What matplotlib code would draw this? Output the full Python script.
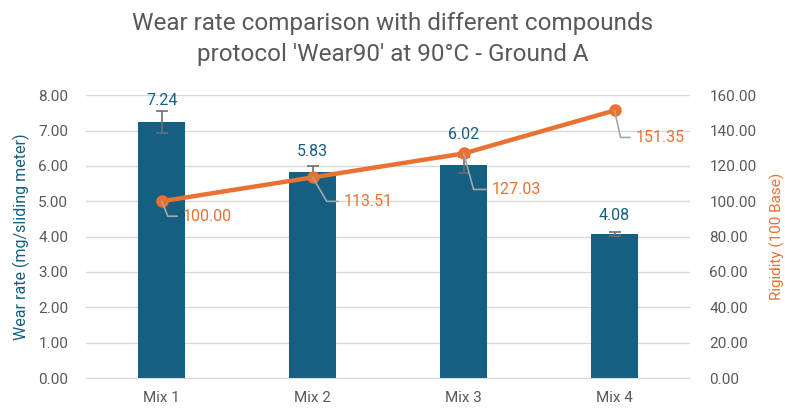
import matplotlib
matplotlib.use("Agg")
import matplotlib.pyplot as plt
import numpy as np

plt.rcParams['font.family'] = ['Roboto', 'DejaVu Sans']

mixes = ["Mix 1", "Mix 2", "Mix 3", "Mix 4"]
wear_rate = [7.24, 5.83, 6.02, 4.08]
wear_err = [0.31, 0.16, 0.23, 0.05]
rigidity = [100.00, 113.51, 127.03, 151.35]

bar_color = "#156082"
line_color = "#E97132"
text_grey = "#595959"
grid_grey = "#D9D9D9"
leader_grey = "#A6A6A6"

# wear label lift above each bar top, in pixels
bar_label_lift = [14, 13, 23, 11]
# rigidity label placement: (corner dx, corner dy, text dx, text dy) in pixels
leader_offsets = [(6, -15, 21, -15), (14, -24, 31, -24), (10, -36, 28, -36), (6, -27, 21, -27)]

fig = plt.figure(figsize=(7.85, 4.12), dpi=100)
ax = fig.add_axes([0.11, 0.0825, 0.769, 0.6865])
ax2 = ax.twinx()
px2pt = 72 / 100

x = np.arange(len(mixes))
ax.bar(x, wear_rate, width=0.31, color=bar_color, zorder=2)
ax.errorbar(x, wear_rate, yerr=wear_err, fmt='none', ecolor="#6E6E6E",
            elinewidth=1.2, capsize=4.5, capthick=1.2, zorder=3)
for xi, v, lift in zip(x, wear_rate, bar_label_lift):
    ax.annotate(f"{v:.2f}", (xi, v), xytext=(0, lift * px2pt), textcoords="offset points",
                ha="center", va="bottom", fontsize=11.5, color=bar_color, zorder=6)

ax.set_xlim(-0.5, len(mixes) - 0.5)
ax.set_ylim(0, 8)
yt = np.arange(0, 8.01, 1)
ax.set_yticks(yt)
ax.set_yticklabels([f"{t:.2f}" for t in yt])
ax.set_xticks(x)
ax.set_xticklabels(mixes)
ax.grid(axis='y', color=grid_grey, linewidth=1, zorder=0)
ax.set_axisbelow(True)
for s in ["top", "right", "left"]:
    ax.spines[s].set_visible(False)
ax.spines["bottom"].set_color(grid_grey)
ax.tick_params(axis='x', length=0, labelsize=11, colors=text_grey, pad=9)
ax.tick_params(axis='y', length=0, labelsize=11, colors=text_grey, pad=13)
ax.set_ylabel("Wear rate (mg/sliding meter)", color=bar_color, fontsize=11.5, labelpad=6)

ax2.set_ylim(0, 160)
ax2.plot(x, rigidity, color=line_color, linewidth=3.2, marker='o', markersize=8,
         zorder=4, solid_capstyle='round')
for xi, v, (cx, cy, tx, ty) in zip(x, rigidity, leader_offsets):
    angle_b = np.degrees(np.arctan2(cy, cx))
    ax2.annotate(f"{v:.2f}", (xi, v), xytext=(tx * px2pt, ty * px2pt),
                 textcoords="offset points", ha="left", va="center",
                 fontsize=11.5, color=line_color, zorder=5,
                 arrowprops=dict(arrowstyle='-', color=leader_grey, lw=1.2,
                                 shrinkA=2, shrinkB=0,
                                 connectionstyle=f"angle,angleA=0,angleB={angle_b:.1f},rad=0"))

yt2 = np.arange(0, 160.1, 20)
ax2.set_yticks(yt2)
ax2.set_yticklabels([f"{t:.2f}" for t in yt2])
for s in ["top", "right", "left", "bottom"]:
    ax2.spines[s].set_visible(False)
ax2.tick_params(axis='y', length=0, labelsize=11, colors=text_grey, pad=14)
ax2.set_ylabel("Rigidity (100 Base)", color=line_color, fontsize=11, labelpad=9)

fig.suptitle("Wear rate comparison with different compounds\nprotocol 'Wear90' at 90\u00b0C - Ground A",
             x=0.5, y=0.97, fontsize=17.5, color=text_grey, linespacing=1.4)

fig.savefig("out.png", dpi=100)
